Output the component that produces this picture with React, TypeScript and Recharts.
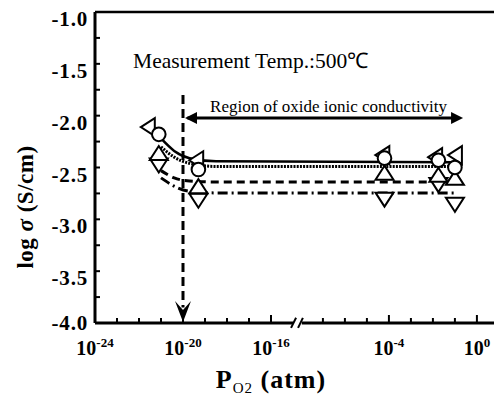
import React from 'react';
import { ComposedChart, Line, Scatter, XAxis, YAxis, ReferenceLine, ReferenceDot, Label } from 'recharts';

const SERIF = 'Liberation Serif, Times New Roman, serif';
const serif = { fontFamily: SERIF };

// log10 P(O2) of the measured points (one group per oxygen pressure)
const groupLogP = [-21.1, -19.3, -4.2, -1.75, -1.0];
const leftTriLogP = [-21.6, -19.4, -4.3, -1.9, -1.0];

// log sigma for each sample
const leftTriSigma = [-2.11, -2.43, -2.38, -2.4, -2.38];
const circleSigma = [-2.18, -2.52, -2.41, -2.43, -2.5];
const upTriSigma = [-2.36, -2.68, -2.55, -2.57, -2.6];
const downTriSigma = [-2.48, -2.82, -2.81, -2.67, -2.86];

// fitted curves
const fitLogP = [-21.0, -20.4, -19.7, -18.5, -1.0];
const solidFit = [-2.22, -2.34, -2.41, -2.44, -2.45];
const dottedFit = [-2.3, -2.4, -2.46, -2.49, -2.49];
const dashedFit = [-2.53, -2.6, -2.63, -2.64, -2.64];
const dashDotFit = [-2.6, -2.68, -2.73, -2.745, -2.745];

const majorTicks = [-24, -20, -16, -4, 0];
const minorTicks = [-23, -22, -21, -19, -18, -17, -7, -6, -5, -3, -2, -1];
const yTicks = [-1, -1.25, -1.5, -1.75, -2, -2.25, -2.5, -2.75, -3, -3.25, -3.5, -3.75, -4];

// broken axis: everything above 10^-15 is shifted left
const BREAK_AT = -15;
const BREAK_SHIFT = 6.64;
const toAxis = (lg: number) => (lg <= BREAK_AT ? lg : lg - BREAK_SHIFT);
const fromAxis = (v: number) => (v <= BREAK_AT ? v : v + BREAK_SHIFT);

const X_MIN = -24;
const X_MAX = -5.136;

const pts = (xs: number[], ys: number[]) => xs.map((lg, i) => ({ x: toAxis(lg), y: ys[i] }));

const Marker = ({ cx, cy, kind }: any) => {
  const common = { fill: '#fff', stroke: '#000', strokeWidth: 2 };
  if (kind === 'circle') return <circle cx={cx} cy={cy} r={6.8} {...common} />;
  if (kind === 'up')
    return <polygon points={`${cx},${cy - 7} ${cx - 9},${cy + 7} ${cx + 9},${cy + 7}`} {...common} />;
  if (kind === 'down')
    return <polygon points={`${cx},${cy + 7} ${cx - 9},${cy - 7} ${cx + 9},${cy - 7}`} {...common} />;
  return <polygon points={`${cx - 7},${cy} ${cx + 7},${cy - 9} ${cx + 7},${cy + 9}`} {...common} />;
};

const XTick = (props: any) => {
  const { x, y, payload } = props;
  const lg = Math.round(fromAxis(payload.value));
  const major = majorTicks.includes(lg);
  return (
    <g>
      <line x1={x} x2={x} y1={y} y2={y - (major ? 8 : 5)} stroke="#000" strokeWidth={2} />
      {major && (
        <text x={x} y={y + 32} textAnchor="middle" style={serif} fontWeight="bold" fontSize={20} fill="#000">
          10<tspan fontSize={13} dy={-8}>{lg}</tspan>
        </text>
      )}
    </g>
  );
};

const YTick = (props: any) => {
  const { x, y, payload } = props;
  const v = payload.value;
  const major = Math.abs(v * 2 - Math.round(v * 2)) < 1e-6;
  return (
    <g>
      <line x1={x} x2={x + 5} y1={y} y2={y} stroke="#000" strokeWidth={2} />
      {major && (
        <text
          x={x - 7}
          y={y + (v === -4 ? 7 : 14)}
          textAnchor="end"
          style={{ ...serif, letterSpacing: 0.8 }}
          fontWeight="bold"
          fontSize={21}
          fill="#000"
        >
          {v.toFixed(1)}
        </text>
      )}
    </g>
  );
};

const arrowLeft = ({ cx, cy }: any) => (
  <polygon points={`${cx},${cy} ${cx + 12},${cy - 6} ${cx + 12},${cy + 6}`} fill="#000" />
);
const arrowRight = ({ cx, cy }: any) => (
  <polygon points={`${cx},${cy} ${cx - 12},${cy - 6} ${cx - 12},${cy + 6}`} fill="#000" />
);
const arrowDown = ({ cx, cy }: any) => (
  <polygon points={`${cx - 8},${cy - 22} ${cx},${cy - 13} ${cx + 8},${cy - 22} ${cx},${cy - 1}`} fill="#000" />
);

const textShape = (txt: string, size: number) => ({ cx, cy }: any) => (
  <text x={cx} y={cy} style={serif} fontSize={size} fill="#000">
    {txt}
  </text>
);

const App = () => {
  return (
    <div style={{ position: 'absolute', left: 0, top: 0, width: 494, height: 406, overflow: 'hidden', background: '#fff' }}>
      <ComposedChart width={510} height={406} margin={{ top: 12, right: 0, bottom: 0, left: 0 }} style={serif}>
        <XAxis
          dataKey="x"
          type="number"
          domain={[X_MIN, X_MAX]}
          ticks={[...majorTicks, ...minorTicks].map(toAxis)}
          interval={0}
          height={83}
          axisLine={false}
          tickLine={false}
          tickSize={0}
          tickMargin={0}
          tick={<XTick />}
          allowDataOverflow
        >
          <Label
            content={() => (
              <text x={271} y={388} textAnchor="middle" style={{ ...serif, letterSpacing: 1 }} fontWeight="bold" fontSize={26} fill="#000">
                P<tspan fontSize={15} fontWeight="normal" dy={5}>O2</tspan>
                <tspan dy={-5}> (atm)</tspan>
              </text>
            )}
          />
        </XAxis>
        <YAxis
          dataKey="y"
          type="number"
          domain={[-4, -1]}
          ticks={yTicks}
          interval={0}
          width={95}
          axisLine={{ stroke: '#000', strokeWidth: 3 }}
          tickLine={false}
          tickSize={0}
          tickMargin={0}
          tick={<YTick />}
          allowDataOverflow
        >
          <Label
            content={() => (
              <text
                x={25}
                y={207}
                transform="rotate(-90 25 207)"
                textAnchor="middle"
                dominantBaseline="central"
                style={{ ...serif, letterSpacing: 0.5 }}
                fontWeight="bold"
                fontSize={23}
                fill="#000"
              >
                log <tspan fontStyle="italic">σ</tspan> (S/cm)
              </text>
            )}
          />
        </YAxis>

        {/* frame: top border and broken bottom axis */}
        <ReferenceLine y={-1} stroke="#000" strokeWidth={2.5} ifOverflow="visible" />
        <ReferenceLine segment={[{ x: X_MIN, y: -4 }, { x: -15.0, y: -4 }]} stroke="#000" strokeWidth={3} ifOverflow="visible" />
        <ReferenceLine segment={[{ x: -14.6, y: -4 }, { x: X_MAX, y: -4 }]} stroke="#000" strokeWidth={3} ifOverflow="visible" />
        <ReferenceLine segment={[{ x: -15.09, y: -4.047 }, { x: -14.86, y: -3.95 }]} stroke="#000" strokeWidth={2} ifOverflow="visible" />
        <ReferenceLine segment={[{ x: -14.77, y: -4.047 }, { x: -14.55, y: -3.95 }]} stroke="#000" strokeWidth={2} ifOverflow="visible" />

        {/* vertical dashed arrow at 10^-20 */}
        <ReferenceLine segment={[{ x: toAxis(-20), y: -1.8 }, { x: toAxis(-20), y: -3.85 }]} stroke="#000" strokeWidth={3} strokeDasharray="9 5" ifOverflow="visible" />
        <ReferenceDot x={toAxis(-20)} y={-4} shape={arrowDown} ifOverflow="visible" />

        {/* region of oxide ionic conductivity */}
        <ReferenceLine segment={[{ x: toAxis(-19.8), y: -2.022 }, { x: toAxis(-0.85), y: -2.022 }]} stroke="#000" strokeWidth={3} ifOverflow="visible" />
        <ReferenceDot x={toAxis(-19.91)} y={-2.022} shape={arrowLeft} ifOverflow="visible" />
        <ReferenceDot x={toAxis(-0.63)} y={-2.022} shape={arrowRight} ifOverflow="visible" />
        <ReferenceDot x={-18.77} y={-1.964} shape={textShape('Region of oxide ionic conductivity', 17)} ifOverflow="visible" />
        <ReferenceDot x={-22.27} y={-1.54} shape={textShape('Measurement Temp.:500\u2103', 21.5)} ifOverflow="visible" />

        <Line data={pts(fitLogP, solidFit)} dataKey="y" type="monotone" stroke="#000" strokeWidth={2.5} dot={false} isAnimationActive={false} />
        <Line data={pts(fitLogP, dottedFit)} dataKey="y" type="monotone" stroke="#000" strokeWidth={3} strokeDasharray="2 1.2" dot={false} isAnimationActive={false} />
        <Line data={pts(fitLogP, dashedFit)} dataKey="y" type="monotone" stroke="#000" strokeWidth={3} strokeDasharray="8 5" dot={false} isAnimationActive={false} />
        <Line data={pts(fitLogP, dashDotFit)} dataKey="y" type="monotone" stroke="#000" strokeWidth={3} strokeDasharray="10 4 2 4" dot={false} isAnimationActive={false} />

        <Scatter data={pts(groupLogP, downTriSigma)} dataKey="y" shape={(p: any) => <Marker {...p} kind="down" />} isAnimationActive={false} />
        <Scatter data={pts(groupLogP, upTriSigma)} dataKey="y" shape={(p: any) => <Marker {...p} kind="up" />} isAnimationActive={false} />
        <Scatter data={pts(leftTriLogP, leftTriSigma)} dataKey="y" shape={(p: any) => <Marker {...p} kind="left" />} isAnimationActive={false} />
        <Scatter data={pts(groupLogP, circleSigma)} dataKey="y" shape={(p: any) => <Marker {...p} kind="circle" />} isAnimationActive={false} />
      </ComposedChart>
    </div>
  );
};

export default App;
